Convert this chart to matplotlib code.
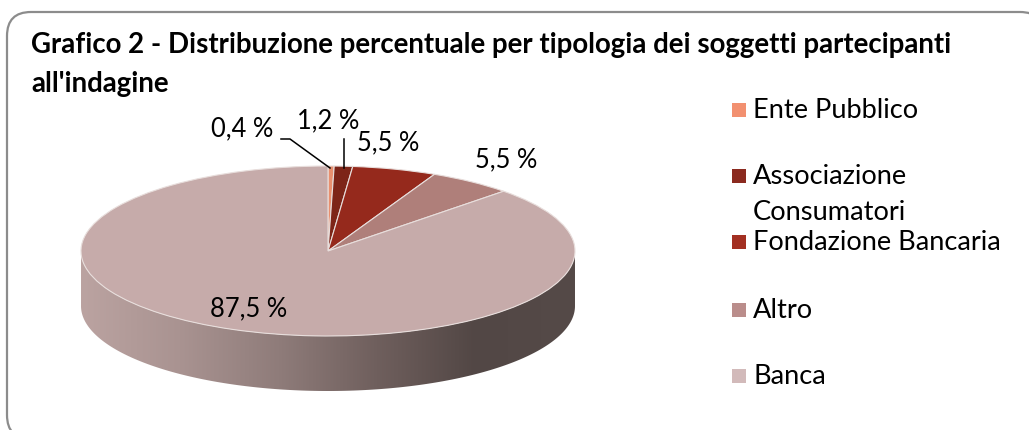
import numpy as np
import matplotlib
matplotlib.use("Agg")
import matplotlib.pyplot as plt
from matplotlib.colors import LinearSegmentedColormap
from matplotlib.patches import FancyBboxPatch, Polygon, Rectangle

plt.rcParams['font.family'] = ['Lato', 'DejaVu Sans']

# data
categories = ["Ente Pubblico", "Associazione\nConsumatori", "Fondazione Bancaria", "Altro", "Banca"]
values = [0.4, 1.2, 5.5, 5.5, 87.5]
value_labels = ["0,4 %", "1,2 %", "5,5 %", "5,5 %", "87,5 %"]
colors = ["#E9906F", "#7D2518", "#95291C", "#AF7F7A", "#C6ABAA"]
legend_colors = ["#F29070", "#8B2A1F", "#A33022", "#BA8D8B", "#D2BABA"]
title_lines = ["Grafico 2 - Distribuzione percentuale per tipologia dei soggetti partecipanti",
               "all'indagine"]

W, H = 1029, 430
fig = plt.figure(figsize=(W / 100, H / 100), dpi=100)

# frame goes at the back
back = fig.add_axes([0, 0, 1, 1], zorder=0)
back.set_xlim(0, W)
back.set_ylim(H, 0)
back.axis("off")
back.add_patch(FancyBboxPatch((7, 12), 1037, 427, boxstyle="round,pad=0,rounding_size=24",
                              fc="white", ec="#8C8C8C", lw=1.6))

# pie: unit circle squashed into an ellipse by the axes shape
cx, cy, rx, ry = 328, 251, 247, 85
depth = 55 / ry
ax = fig.add_axes([(cx - rx) / W, (H - cy - ry) / H, 2 * rx / W, 2 * ry / H], zorder=1)
ax.patch.set_alpha(0)
ax.pie(values, colors=colors, startangle=90, counterclock=False, radius=1,
       wedgeprops=dict(edgecolor="#E8DEDC", linewidth=0.8, clip_on=False))

# side of the disc with horizontal shading
t = np.linspace(np.pi, 2 * np.pi, 200)
low = np.c_[np.cos(t), np.sin(t)]
side = np.vstack([low, (low - [0, depth])[::-1]])
shade = LinearSegmentedColormap.from_list(
    "side", ["#BBA3A1", "#A99391", "#8F7C7A", "#6F5F5D", "#524745", "#554A48"])
clip = Polygon(side, closed=True, transform=ax.transData, fc="none", ec="none", clip_on=False)
ax.add_patch(clip)
im = ax.imshow(np.linspace(0, 1, 256)[None, :], cmap=shade, aspect="auto",
               extent=(-1, 1, -1 - depth, 1), zorder=0)
# image would stop at the axes box otherwise
im.set_clip_box(fig.bbox)
im.set_clip_path(clip)
ax.set_aspect("auto")
ax.set_xlim(-1, 1)
ax.set_ylim(-1, 1)
ax.axis("off")

# pixel axes on top for texts and legend
top = fig.add_axes([0, 0, 1, 1], zorder=2)
top.set_xlim(0, W)
top.set_ylim(H, 0)
top.axis("off")
top.patch.set_alpha(0)

for y, line in zip([45, 84], title_lines):
    top.text(31, y, line, fontsize=19.9, fontweight="bold", color="black", va="center", ha="left")

# value labels
label_pos = [(242, 129), (328, 121), (388, 143), (506, 160), (249, 309)]
for (x, y), s in zip(label_pos, value_labels):
    top.text(x, y, s, fontsize=18.4, ha="center", va="center", color="black")
leaders = [[(281, 139), (290, 139), (330, 168)], [(344, 139), (344, 168)]]
for pts in leaders:
    xs, ys = zip(*pts)
    top.plot(xs, ys, color="black", lw=1.1)

# legend
legend_y = [110, 176, 242, 310, 376]
for y, name, c in zip(legend_y, categories, legend_colors):
    top.add_patch(Rectangle((732, y - 7), 14, 14, fc=c, ec="none"))
    for i, line in enumerate(name.split("\n")):
        top.text(753, y + i * 36, line, fontsize=19.6, va="center", ha="left", color="black")

fig.savefig("out.png", dpi=100, facecolor="white")
